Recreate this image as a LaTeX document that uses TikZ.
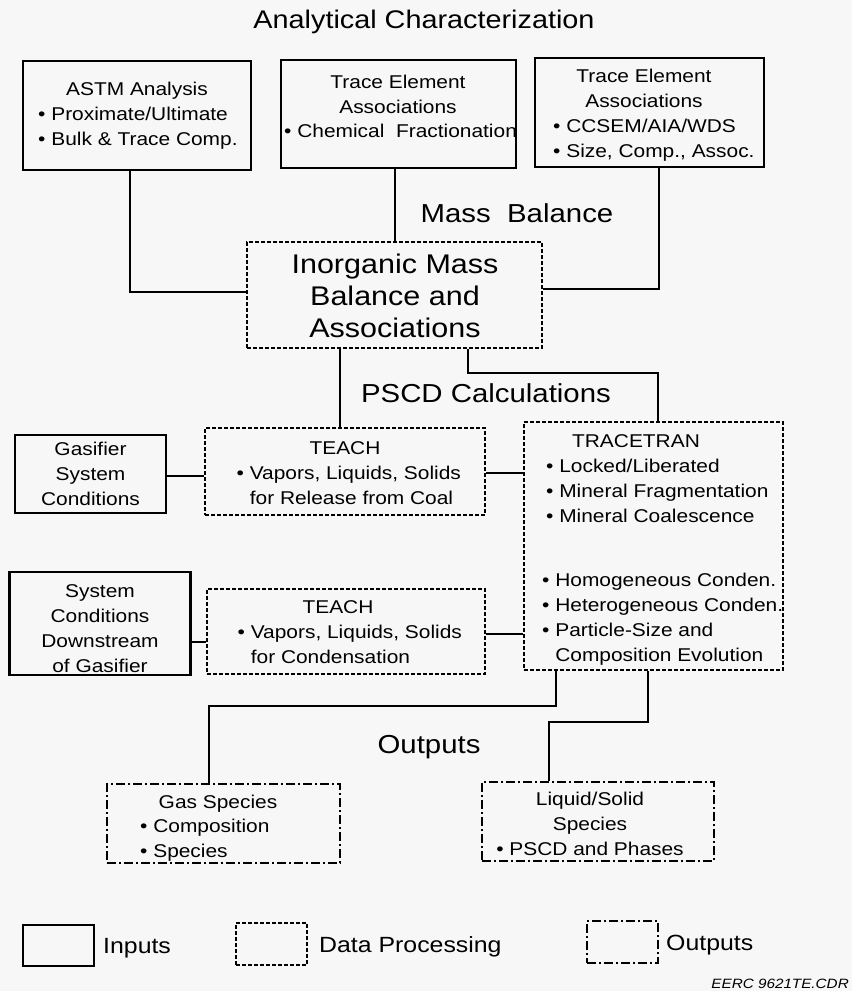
\documentclass[tikz,border=0pt]{standalone}
\usepackage{fontspec}
\setmainfont{Liberation Sans}[FakeStretch=1.13]
\definecolor{bgc}{RGB}{247,247,247}
\begin{document}
\begin{tikzpicture}[x=1pt,y=-1pt,
  inbox/.style={draw=black, line width=2.6pt, inner sep=0pt},
  procbox/.style={draw=black, line width=2pt, dash pattern=on 4pt off 2pt, inner sep=0pt},
  outbox/.style={draw=black, line width=2pt, dash pattern=on 9pt off 3pt on 2pt off 3pt, inner sep=0pt},
  conn/.style={draw=black, line width=2.6pt},
  bt/.style={font=\fontsize{18.5}{25}\selectfont, inner sep=0pt},
  big/.style={font=\fontsize{26}{30}\selectfont, inner sep=0pt},
  inorgt/.style={font=\fontsize{27}{32}\selectfont, inner sep=0pt},
  legt/.style={font=\fontsize{22}{26}\selectfont, inner sep=0pt}
]
\useasboundingbox (0,0) rectangle (852,991);
\fill[bgc] (0,0) rectangle (852,991);

% ---------- boxes ----------
\node[inbox, minimum width=228pt, minimum height=109pt] (astm) at (137,115.5) {};
\node[inbox, minimum width=235pt, minimum height=108pt] (trace1) at (398.5,114) {};
\node[inbox, minimum width=229pt, minimum height=109pt] (trace2) at (649.5,112.5) {};
\node[procbox, minimum width=295pt, minimum height=106pt] (inorg) at (394.5,295) {};
\node[procbox, minimum width=280pt, minimum height=87pt] (teach1) at (345,471.5) {};
\node[procbox, minimum width=259pt, minimum height=248pt] (tracetran) at (653.5,546) {};
\node[inbox, minimum width=151pt, minimum height=78pt] (gasifier) at (90.5,474) {};
\node[inbox, minimum width=181pt, minimum height=103pt] (system) at (100,623.5) {};
\node[procbox, minimum width=278pt, minimum height=85pt] (teach2) at (346,631.5) {};
\node[outbox, minimum width=233pt, minimum height=79pt] (gas) at (223.5,823.5) {};
\node[outbox, minimum width=232pt, minimum height=79pt] (liq) at (598,821.5) {};

% ---------- legend boxes ----------
\node[inbox, minimum width=71pt, minimum height=41pt] (legIn) at (58.5,945.5) {};
\node[procbox, minimum width=71pt, minimum height=42pt] (legDp) at (271.5,944) {};
\node[outbox, minimum width=71pt, minimum height=42pt] (legOut) at (622.5,942) {};

% ---------- connectors ----------
\draw[conn] ([xshift=-7pt]astm.south) |- ([yshift=3pt]inorg.west);
\draw[conn] ([xshift=-3.5pt]trace1.south) -- ([xshift=-3.5pt]trace1.south |- inorg.north);
\draw[conn] ([xshift=9.5pt]trace2.south) |- ([yshift=6pt]inorg.east);
\draw[conn] ([xshift=-54.5pt]inorg.south) -- ([xshift=-54.5pt]inorg.south |- teach1.north);
\draw[conn] ([xshift=73.5pt]inorg.south) -- ++(0,24) -| ([xshift=4.5pt]tracetran.north);
\draw[conn] ([yshift=-2pt]gasifier.east) -- ([yshift=-2pt]gasifier.east -| teach1.west);
\draw[conn] ([yshift=-1.5pt]teach1.east) -- ([yshift=-1.5pt]teach1.east -| tracetran.west);
\draw[conn] ([yshift=-18.5pt]system.east) -- ([yshift=-18.5pt]system.east -| teach2.west);
\draw[conn] ([yshift=-2.5pt]teach2.east) -- ([yshift=-2.5pt]teach2.east -| tracetran.west);
\draw[conn] ([xshift=-97.5pt]tracetran.south) -- ++(0,35) -| ([xshift=-14.5pt]gas.north);
\draw[conn] ([xshift=-5.5pt]tracetran.south) -- ++(0,51) -| ([xshift=-49pt]liq.north);

% ---------- headings ----------
\node[font=\fontsize{25.5}{30}\selectfont, inner sep=0pt, anchor=base] (title) at (424,28) {Analytical Characterization};
\node[big, anchor=base] (mbT) at (517,222) {Mass\ \ Balance};
\node[big, anchor=base] (pscdT) at (486,402) {PSCD Calculations};
\node[big, anchor=base] (outT) at (429,753) {Outputs};

% ---------- box texts ----------
\node[bt, anchor=base] (astmH) at (137,95) {ASTM Analysis};
\node[bt, anchor=base west] (astmL) at (38,120) {\begin{tabular}[t]{@{}l@{}}• Proximate/Ultimate\\• Bulk \& Trace Comp.\end{tabular}};

\node[bt, anchor=base] (tr1H) at (398,88) {\begin{tabular}[t]{@{}c@{}}Trace Element\\Associations\end{tabular}};
\node[bt, anchor=base west] (tr1L) at (284,137) {• Chemical\ \ Fractionation};

\node[bt, anchor=base] (tr2H) at (644,82) {\begin{tabular}[t]{@{}c@{}}Trace Element\\Associations\end{tabular}};
\node[bt, anchor=base west] (tr2L) at (553,132) {\begin{tabular}[t]{@{}l@{}}• CCSEM/AIA/WDS\\• Size, Comp., Assoc.\end{tabular}};

\node[inorgt, anchor=base] (inorgT) at (395,273) {\begin{tabular}[t]{@{}c@{}}Inorganic Mass\\Balance and\\Associations\end{tabular}};

\node[bt, anchor=base] (t1H) at (345,454) {TEACH};
\node[bt, anchor=base west] (t1L) at (236.5,479) {\begin{tabular}[t]{@{}l@{}}• Vapors, Liquids, Solids\\\phantom{• }for Release from Coal\end{tabular}};

\node[bt, anchor=base] (t2H) at (338,613) {TEACH};
\node[bt, anchor=base west] (t2L) at (237.5,638) {\begin{tabular}[t]{@{}l@{}}• Vapors, Liquids, Solids\\\phantom{• }for Condensation\end{tabular}};

\node[bt, anchor=base] (ttH) at (636,447) {TRACETRAN};
\node[bt, anchor=base west] (ttL1) at (546,472) {\begin{tabular}[t]{@{}l@{}}• Locked/Liberated\\• Mineral Fragmentation\\• Mineral Coalescence\end{tabular}};
\node[bt, anchor=base west] (ttL2) at (542,586) {\begin{tabular}[t]{@{}l@{}}• Homogeneous Conden.\\• Heterogeneous Conden.\\• Particle-Size and\\\phantom{• }Composition Evolution\end{tabular}};

\node[bt, anchor=base] (gasifT) at (90.5,455) {\begin{tabular}[t]{@{}c@{}}Gasifier\\System\\Conditions\end{tabular}};
\node[bt, anchor=base] (systT) at (100,597) {\begin{tabular}[t]{@{}c@{}}System\\Conditions\\Downstream\\of Gasifier\end{tabular}};

\node[bt, anchor=base] (gasH) at (218,808) {Gas Species};
\node[bt, anchor=base west] (gasL) at (140,832) {\begin{tabular}[t]{@{}l@{}}• Composition\\• Species\end{tabular}};

\node[bt, anchor=base] (liqT) at (590,805) {\begin{tabular}[t]{@{}c@{}}Liquid/Solid\\Species\\• PSCD and Phases\end{tabular}};

% ---------- legend texts ----------
\node[legt, anchor=base west] (legInT) at (103,953) {Inputs};
\node[legt, anchor=base west] (legDpT) at (319,952) {Data Processing};
\node[legt, anchor=base west] (legOutT) at (666,950) {Outputs};
\node[font=\fontsize{13.5}{16}\selectfont\itshape, inner sep=0pt, anchor=base east] (eerc) at (849,988) {EERC 9621TE.CDR};
\end{tikzpicture}
\end{document}
